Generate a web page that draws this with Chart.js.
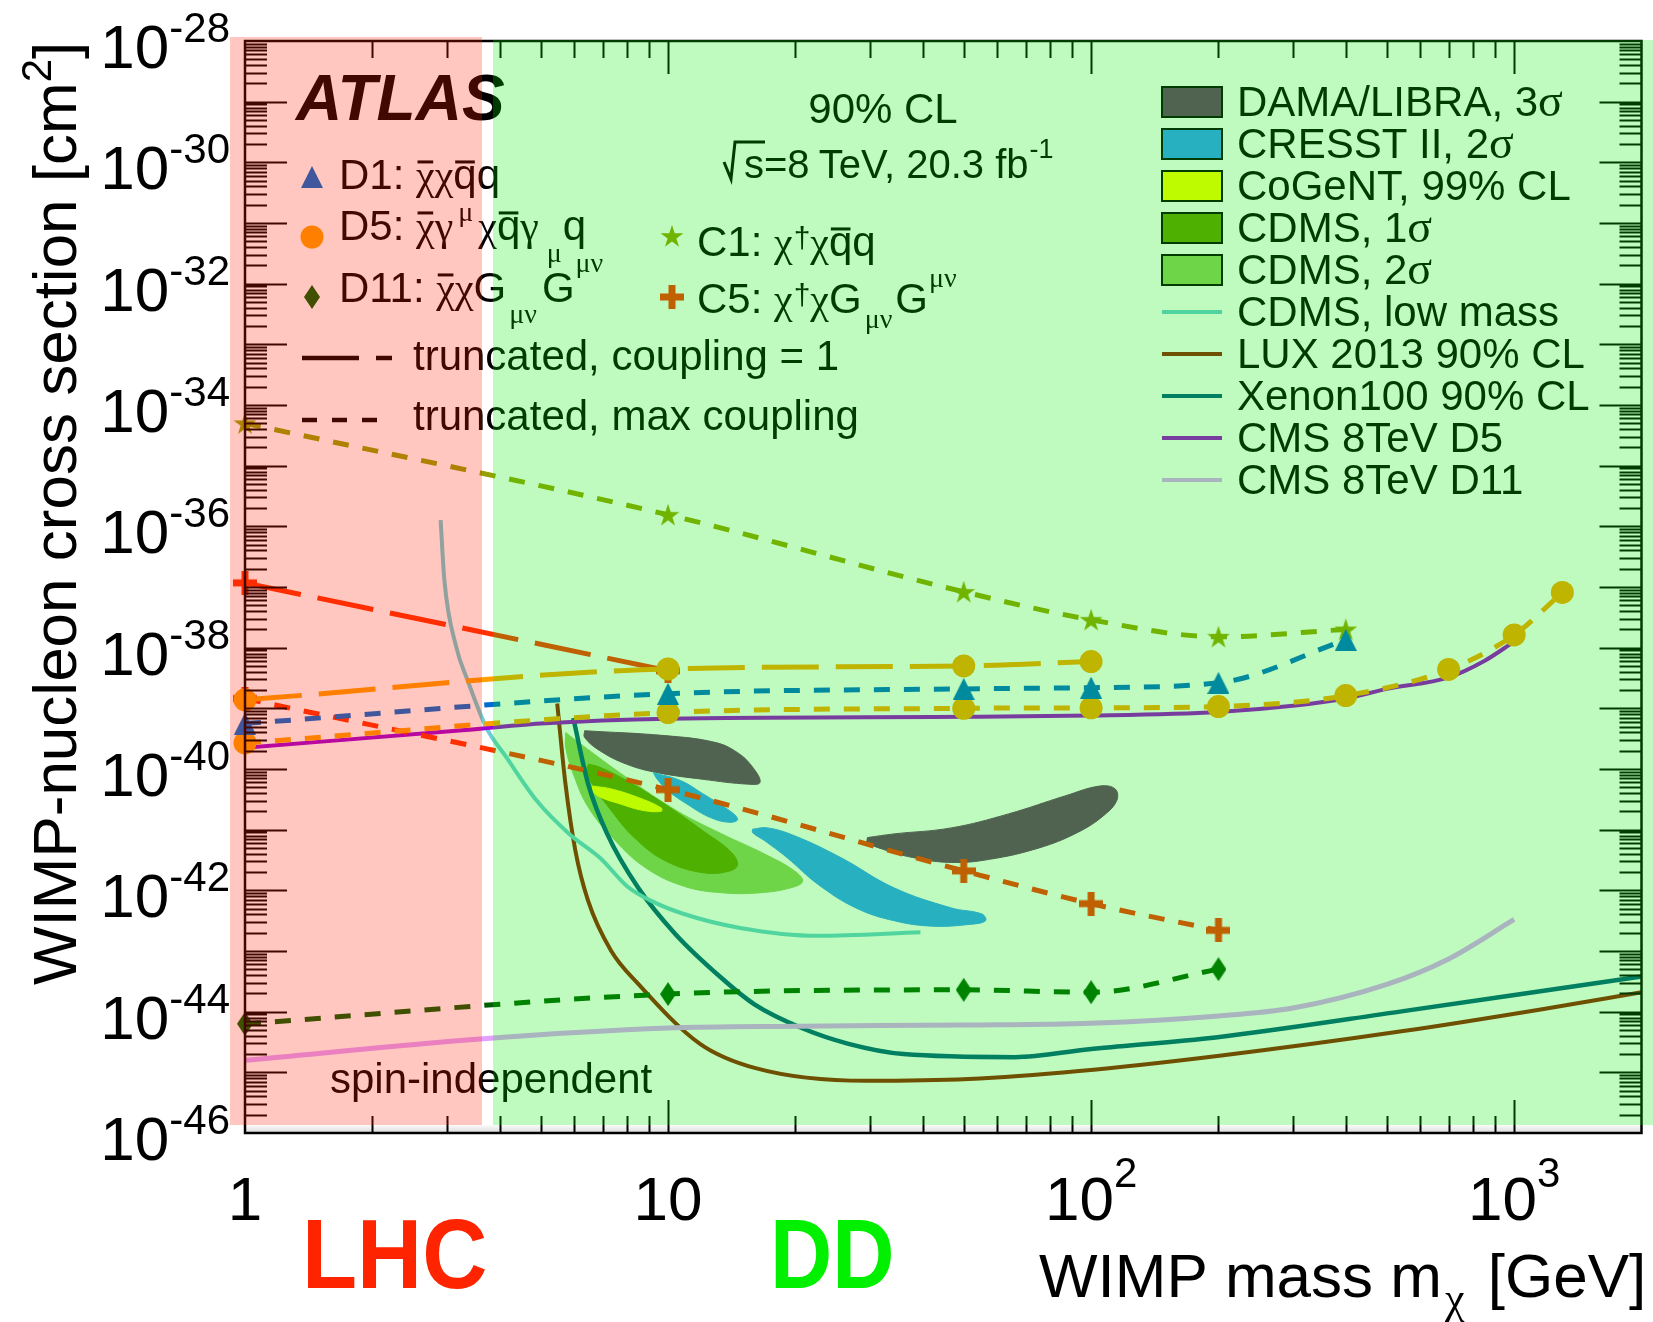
<!DOCTYPE html>
<html>
<head>
<meta charset="utf-8">
<script src="https://cdn.jsdelivr.net/npm/chart.js@4.4.1/dist/chart.umd.min.js"></script>
<style>
  html, body { margin: 0; padding: 0; background: #fff; }
  #wrap { width: 1653px; height: 1322px; }
</style>
</head>
<body>
<div id="wrap"><canvas id="c" width="1653" height="1322"></canvas></div>
<script>
// ---- ATLAS limits (markers + dashed lines) ----
const d1Mass = [1, 10, 50, 100, 200, 400];
const d1Max = [5.62e-40, 1.74e-39, 2.09e-39, 2.19e-39, 2.63e-39, 1.35e-38];

const d5TruncMass = [1, 10, 50, 100];
const d5Trunc = [1.38e-39, 4.47e-39, 5.0e-39, 5.89e-39];
const d5MaxMass = [1, 10, 50, 100, 200, 400, 700, 1000, 1300];
const d5Max = [2.69e-40, 8.51e-40, 1.0e-39, 1.02e-39, 1.07e-39, 1.62e-39, 4.37e-39, 1.62e-38, 8.13e-38];

const d11Mass = [1, 10, 50, 100, 200];
const d11Max = [6.31e-45, 1.95e-44, 2.29e-44, 2.09e-44, 5.01e-44];

const c1Mass = [1, 10, 50, 100, 200, 400];
const c1Max = [5.01e-35, 1.55e-36, 8.32e-38, 2.88e-38, 1.51e-38, 2.0e-38];

const c5TruncMass = [1, 10];
const c5Trunc = [1.17e-37, 4.17e-39];
const c5MaxMass = [1, 10, 50, 100, 200];
const c5Max = [1.45e-39, 4.57e-41, 2.09e-42, 6.03e-43, 2.19e-43];

// ---- direct detection / CMS curves ----
const cdmsLowMass = [2.90, 2.96, 3.16, 3.36, 3.72, 4.15, 4.89, 5.84, 6.92, 8.0, 9.1, 10.9, 14.8, 22.6, 39.5];
const cdmsLow = [1.26e-36, 1.29e-37, 1.0e-38, 2.88e-39, 4.79e-40, 1.55e-40, 3.02e-41, 8.51e-42, 3.39e-42, 1.17e-42, 6.76e-43, 4.07e-43, 2.40e-43, 1.78e-43, 2.04e-43];

const luxMass = [5.47, 5.72, 6.04, 6.47, 7.34, 8.5, 11.9, 16.1, 29.5, 51.3, 93.7, 199, 547, 1165, 2000];
const lux = [1.20e-39, 5.75e-41, 4.47e-42, 6.76e-43, 1.0e-43, 2.88e-44, 2.95e-45, 1.17e-45, 7.24e-46, 7.76e-46, 1.05e-45, 1.86e-45, 4.79e-45, 1.10e-44, 2.09e-44];

const xenonMass = [5.97, 6.47, 7.18, 8.5, 10.4, 13.4, 16, 20.7, 26.7, 36, 66, 99, 199, 547, 1164, 2000];
const xenon = [6.92e-40, 5.75e-41, 8.51e-42, 1.10e-42, 1.91e-43, 3.55e-44, 1.32e-44, 5.37e-45, 2.95e-45, 2.0e-45, 1.78e-45, 2.40e-45, 3.80e-45, 1.02e-44, 2.19e-44, 3.80e-44];

const cmsD5Mass = [1, 3.16, 5, 10, 50, 100, 200, 300, 400, 500, 700, 850, 1000];
const cmsD5 = [2.24e-40, 4.27e-40, 5.62e-40, 6.76e-40, 7.24e-40, 7.59e-40, 8.71e-40, 1.10e-39, 1.45e-39, 2.09e-39, 3.24e-39, 6.03e-39, 1.26e-38];

const cmsD11Mass = [1, 3.6, 10, 20, 50, 100, 200, 300, 500, 700, 1000];
const cmsD11 = [1.58e-45, 3.55e-45, 5.37e-45, 5.75e-45, 6.03e-45, 6.46e-45, 8.51e-45, 1.15e-44, 2.82e-44, 7.41e-44, 3.31e-43];

// ---- signal regions (outlines) ----
const damaLoMass = [6.35, 9.83, 12.9, 14.6, 15.85, 16.5, 15.5, 12.1, 9.43, 7.98, 6.90, 6.35];
const damaLo = [4.27e-40, 3.55e-40, 2.75e-40, 1.86e-40, 1.07e-40, 6.03e-41, 5.62e-41, 6.76e-41, 8.71e-41, 1.20e-40, 2.0e-40, 3.31e-40];
const damaHiMass = [29.6, 34.2, 46.7, 63.8, 87.1, 105, 114, 115, 107, 92.7, 75.4, 57.5, 46.7, 37.9, 32.1, 29.6];
const damaHi = [7.41e-42, 8.51e-42, 1.07e-41, 1.82e-41, 3.63e-41, 5.25e-41, 4.68e-41, 3.02e-41, 1.70e-41, 8.91e-42, 5.01e-42, 3.24e-42, 2.88e-42, 3.47e-42, 4.79e-42, 6.17e-42];
const cresstHiMass = [9.23, 10.7, 12.1, 14.0, 14.6, 14.0, 12.6, 11.1, 10.0, 9.43];
const cresstHi = [8.71e-41, 6.46e-41, 3.89e-41, 2.04e-41, 1.48e-41, 1.32e-41, 1.58e-41, 2.63e-41, 4.37e-41, 6.76e-41];
const cresstLoMass = [15.85, 17.2, 19.9, 25.6, 34.2, 46.7, 55.2, 56.3, 51.8, 42.1, 34.2, 27.8, 22.6, 19.1, 16.9, 15.85];
const cresstLo = [1.02e-41, 1.07e-41, 7.94e-42, 3.47e-42, 1.10e-42, 5.13e-43, 4.07e-43, 3.16e-43, 2.75e-43, 2.57e-43, 3.16e-43, 5.13e-43, 1.26e-42, 3.47e-42, 6.61e-42, 8.91e-42];
const cdms2Mass = [5.73, 6.22, 7.98, 10.5, 13.4, 16.9, 19.9, 20.8, 19.5, 16.5, 13.4, 10.9, 8.86, 7.50, 6.49, 5.97, 5.73];
const cdms2 = [3.98e-40, 2.57e-40, 7.24e-41, 2.04e-41, 8.51e-42, 3.98e-42, 2.09e-42, 1.41e-42, 1.10e-42, 9.12e-43, 9.12e-43, 1.17e-42, 2.34e-42, 6.61e-42, 2.29e-41, 8.32e-41, 2.24e-40];
const cdms1Mass = [6.49, 6.90, 7.98, 9.83, 12.1, 14.0, 14.6, 14.0, 12.1, 9.83, 8.32, 7.35, 6.62, 6.42];
const cdms1 = [1.20e-40, 1.07e-40, 6.46e-41, 2.63e-41, 9.55e-42, 4.47e-42, 2.69e-42, 2.09e-42, 1.95e-42, 3.09e-42, 7.41e-42, 2.04e-41, 5.62e-41, 9.33e-41];
const cogentMass = [6.62, 7.35, 8.50, 9.63, 9.63, 8.68, 7.66, 6.90, 6.62];
const cogent = [5.25e-41, 4.68e-41, 3.39e-41, 2.29e-41, 2.0e-41, 2.09e-41, 2.69e-41, 3.47e-41, 4.37e-41];

const yExpLabels = [-28, -30, -32, -34, -36, -38, -40, -42, -44, -46];
const xLabels = [[1, '1', ''], [10, '10', ''], [100, '10', '2'], [1000, '10', '3']];

const SANS = '"Liberation Sans", Arial, sans-serif';
const SERIF = '"Liberation Serif", "DejaVu Serif", serif';

// colours before the transparent LHC / DD bands are laid on top
const colD1 = 'rgb(0,105,210)', colD5 = 'rgb(255,160,0)', colD11 = 'rgb(0,95,0)';
const colC1 = 'rgb(150,160,0)', colC5 = 'rgb(255,50,0)';
const colDama = 'rgb(107,53,107)', colCresst = 'rgb(53,155,255)', colCogent = 'rgb(255,255,0)';
const colCdms1 = 'rgb(104,155,0)', colCdms2 = 'rgb(147,203,96)', colCdmsLow = 'rgb(107,205,213)';
const colLux = 'rgb(147,27,0)', colXenon = 'rgb(0,91,128)';
const colCmsD5 = 'rgb(160,0,213)', colCmsD11 = 'rgb(227,160,255)';

function pts(xs, ys) { return xs.map((x, i) => ({ x: x, y: ys[i] })); }
function loop(xs, ys) { const p = pts(xs, ys); p.push(p[0]); return p; }

function marker(w, h, draw) {
  const c = document.createElement('canvas');
  c.width = w; c.height = h;
  draw(c.getContext('2d'), w, h);
  return c;
}
function triangle(col) {
  return marker(22, 22, (g, w, h) => {
    g.fillStyle = col; g.beginPath();
    g.moveTo(w / 2, 0); g.lineTo(w, h); g.lineTo(0, h); g.closePath(); g.fill();
  });
}
function star(col) {
  return marker(24, 24, (g) => {
    g.fillStyle = col; g.beginPath();
    for (let i = 0; i < 10; i++) {
      const r = i % 2 ? 4.6 : 12;
      const a = -Math.PI / 2 + i * Math.PI / 5;
      g.lineTo(12 + r * Math.cos(a), 13 + r * Math.sin(a));
    }
    g.closePath(); g.fill();
  });
}
function cross(col) {
  return marker(24, 24, (g) => {
    g.fillStyle = col;
    g.fillRect(0, 8.5, 24, 7); g.fillRect(8.5, 0, 7, 24);
  });
}
function diamond(col) {
  return marker(16, 24, (g, w, h) => {
    g.fillStyle = col; g.beginPath();
    g.moveTo(w / 2, 0); g.lineTo(w, h / 2); g.lineTo(w / 2, h); g.lineTo(0, h / 2); g.closePath(); g.fill();
  });
}
const mkD1 = triangle(colD1), mkC1 = star(colC1), mkC5 = cross(colC5), mkD11 = diamond(colD11);

const LONG = [57, 17], SHORT = [16, 14];

function atlas(xs, ys, col, style, dash) {
  return {
    data: pts(xs, ys), showLine: true, borderColor: col, backgroundColor: col,
    borderWidth: 5, borderDash: dash, pointStyle: style, pointRadius: 11.5, pointBorderWidth: 0,
    cubicInterpolationMode: 'monotone', tension: 0.4, clip: false, order: 1
  };
}
function curve(xs, ys, col, w) {
  return {
    data: pts(xs, ys), showLine: true, borderColor: col, borderWidth: w, pointRadius: 0,
    cubicInterpolationMode: 'monotone', tension: 0.4, order: 2
  };
}
function region(xs, ys, col) {
  return {
    data: loop(xs, ys), showLine: true, fill: 'shape', backgroundColor: col, borderColor: col,
    borderWidth: 1, pointRadius: 0, tension: 0.4, order: 3
  };
}

const datasets = [
  atlas(d1Mass, d1Max, colD1, mkD1, SHORT),
  atlas(d5TruncMass, d5Trunc, colD5, 'circle', LONG),
  atlas(d5MaxMass, d5Max, colD5, 'circle', SHORT),
  atlas(c1Mass, c1Max, colC1, mkC1, SHORT),
  atlas(c5TruncMass, c5Trunc, colC5, mkC5, LONG),
  atlas(c5MaxMass, c5Max, colC5, mkC5, SHORT),
  atlas(d11Mass, d11Max, colD11, mkD11, SHORT),
  curve(cmsD5Mass, cmsD5, colCmsD5, 4),
  curve(cmsD11Mass, cmsD11, colCmsD11, 5),
  curve(cdmsLowMass, cdmsLow, colCdmsLow, 4),
  curve(luxMass, lux, colLux, 4),
  curve(xenonMass, xenon, colXenon, 4.5),
  region(cogentMass, cogent, colCogent),
  region(cdms1Mass, cdms1, colCdms1),
  region(cdms2Mass, cdms2, colCdms2),
  region(cresstHiMass, cresstHi, colCresst),
  region(cresstLoMass, cresstLo, colCresst),
  region(damaLoMass, damaLo, colDama),
  region(damaHiMass, damaHi, colDama)
];
datasets.forEach((d, i) => { if (d.order === 3) d.order = 3 + i; });

// draw a run of text pieces (sub/superscripts, overbars)
function rich(ctx, x, y, parts, base) {
  for (const p of parts) {
    const s = p.s || base;
    ctx.font = (p.b ? 'bold ' : '') + s + 'px ' + (p.g ? SERIF : SANS);
    x += p.dx || 0;
    const yy = y + (p.dy || 0);
    ctx.fillText(p.t, x, yy);
    const w = ctx.measureText(p.t).width;
    if (p.bar) ctx.fillRect(x + w * 0.08, yy - s * 0.68, w * 0.84, 3);
    x += w;
  }
  return x;
}
function width(ctx, parts, base) {
  let w = 0;
  for (const p of parts) {
    ctx.font = (p.b ? 'bold ' : '') + (p.s || base) + 'px ' + (p.g ? SERIF : SANS);
    w += (p.dx || 0) + ctx.measureText(p.t).width;
  }
  return w;
}

const decor = {
  id: 'decor',
  beforeDraw(chart) {
    const ctx = chart.ctx, a = chart.chartArea;
    ctx.save();
    ctx.fillStyle = '#fff';
    ctx.fillRect(0, 0, chart.width, chart.height);
    const g = ctx.createLinearGradient(0, 1125, 0, a.bottom);
    g.addColorStop(0, '#fbfbfb'); g.addColorStop(1, '#dadada');
    ctx.fillStyle = g;
    ctx.fillRect(a.left, 1125, a.right - a.left, a.bottom - 1125);
    ctx.restore();
  },
  afterDraw(chart) {
    const ctx = chart.ctx, a = chart.chartArea;
    const xs = chart.scales.x, ys = chart.scales.y;
    ctx.save();

    // ticks on all four sides
    ctx.strokeStyle = '#000'; ctx.lineWidth = 2;
    ctx.beginPath();
    for (const d of [1, 10, 100, 1000]) {
      for (let m = 1; m < 10; m++) {
        const v = m * d;
        if (v <= 1 || v >= 2000) continue;
        const p = Math.round(xs.getPixelForValue(v)) + 0.5, len = m === 1 ? 33 : 17;
        ctx.moveTo(p, a.bottom); ctx.lineTo(p, a.bottom - len);
        ctx.moveTo(p, a.top); ctx.lineTo(p, a.top + len);
      }
    }
    for (let e = -46; e < -28; e++) {
      for (let m = 1; m < 10; m++) {
        if (m === 1 && e === -46) continue;
        const p = Math.round(ys.getPixelForValue(m * Math.pow(10, e))) + 0.5, len = m === 1 ? 42 : 22;
        ctx.moveTo(a.left, p); ctx.lineTo(a.left + len, p);
        ctx.moveTo(a.right, p); ctx.lineTo(a.right - len, p);
      }
    }
    ctx.stroke();
    ctx.lineWidth = 2.5;
    ctx.strokeRect(a.left, a.top, a.right - a.left, a.bottom - a.top);

    // legend, left block
    ctx.fillStyle = '#000';
    ctx.font = 'italic bold 64px ' + SANS;
    ctx.fillText('ATLAS', 296, 120);

    ctx.drawImage(mkD1, 312 - 11, 177 - 11);
    rich(ctx, 339, 189, [{ t: 'D1: ' }, { t: 'χ', g: 1, bar: 1 }, { t: 'χ', g: 1 }, { t: 'q', bar: 1 }, { t: 'q' }], 42);
    ctx.fillStyle = colD5;
    ctx.beginPath(); ctx.arc(312, 237, 11.5, 0, Math.PI * 2); ctx.fill();
    ctx.fillStyle = '#000';
    rich(ctx, 339, 240, [{ t: 'D5: ' }, { t: 'χ', g: 1, bar: 1 }, { t: 'γ', g: 1 }, { t: 'μ', g: 1, s: 28, dy: -19, dx: 5 },
      { t: 'χ', g: 1, dx: 5 }, { t: 'q', bar: 1 }, { t: 'γ', g: 1 }, { t: 'μ', g: 1, s: 28, dy: 22, dx: 8 }, { t: 'q', dx: 1 }], 42);
    ctx.drawImage(mkD11, 312 - 8, 297 - 12);
    rich(ctx, 339, 302, [{ t: 'D11: ' }, { t: 'χ', g: 1, bar: 1 }, { t: 'χ', g: 1 }, { t: 'G' }, { t: 'μν', g: 1, s: 28, dy: 21, dx: 3 },
      { t: 'G', dx: 5 }, { t: 'μν', g: 1, s: 28, dy: -30, dx: 1 }], 42);

    ctx.drawImage(mkC1, 672 - 12, 237 - 13);
    rich(ctx, 697, 256, [{ t: 'C1: ' }, { t: 'χ', g: 1 }, { t: '†', s: 30, dy: -8, dx: 1 }, { t: 'χ', g: 1 }, { t: 'q', bar: 1 }, { t: 'q' }], 42);
    ctx.drawImage(mkC5, 672 - 12, 297 - 12);
    rich(ctx, 697, 313, [{ t: 'C5: ' }, { t: 'χ', g: 1 }, { t: '†', s: 30, dy: -8, dx: 1 }, { t: 'χ', g: 1 }, { t: 'G' },
      { t: 'μν', g: 1, s: 28, dy: 15, dx: 3 }, { t: 'G', dx: 3 }, { t: 'μν', g: 1, s: 28, dy: -26, dx: 1 }], 42);

    ctx.strokeStyle = '#000'; ctx.lineWidth = 4.5;
    ctx.setLineDash(LONG);
    ctx.beginPath(); ctx.moveTo(302, 358); ctx.lineTo(392, 358); ctx.stroke();
    ctx.setLineDash([15, 15]);
    ctx.beginPath(); ctx.moveTo(302, 420); ctx.lineTo(378, 420); ctx.stroke();
    ctx.setLineDash([]);
    ctx.font = '42px ' + SANS;
    ctx.fillText('truncated, coupling = 1', 413, 370);
    ctx.fillText('truncated, max coupling', 413, 430);

    // energy / luminosity
    ctx.textAlign = 'center';
    ctx.fillText('90% CL', 883, 123);
    ctx.textAlign = 'left';
    ctx.lineWidth = 3;
    ctx.beginPath(); ctx.moveTo(724, 162); ctx.lineTo(731, 179); ctx.lineTo(735, 142); ctx.lineTo(765, 142); ctx.stroke();
    rich(ctx, 744, 178, [{ t: 's=8' }, { t: ' TeV, 20.3 fb', dx: -2 }, { t: '-1', s: 27, dy: -20, dx: 1 }], 40);

    ctx.font = '42px ' + SANS;
    ctx.fillText('spin-independent', 330, 1093);

    // legend, right block
    const boxes = [['DAMA/LIBRA, 3σ', colDama], ['CRESST II, 2σ', colCresst], ['CoGeNT, 99% CL', colCogent],
      ['CDMS, 1σ', colCdms1], ['CDMS, 2σ', colCdms2]];
    const lines = [['CDMS, low mass', colCdmsLow], ['LUX 2013 90% CL', colLux], ['Xenon100 90% CL', colXenon],
      ['CMS 8TeV D5', colCmsD5], ['CMS 8TeV D11', colCmsD11]];
    const rows = boxes.concat(lines);
    rows.forEach((r, i) => {
      const cy = 102 + 42 * i;
      if (i < boxes.length) {
        ctx.fillStyle = r[1];
        ctx.fillRect(1162, cy - 15, 60, 30);
        ctx.strokeStyle = '#000'; ctx.lineWidth = 2;
        ctx.strokeRect(1162, cy - 15, 60, 30);
      } else {
        ctx.strokeStyle = r[1]; ctx.lineWidth = 4;
        ctx.beginPath(); ctx.moveTo(1162, cy); ctx.lineTo(1222, cy); ctx.stroke();
      }
      ctx.fillStyle = '#000';
      const parts = r[0].split('σ');
      if (parts.length > 1) rich(ctx, 1237, cy + 14, [{ t: parts[0] }, { t: 'σ', g: 1, s: 46 }], 42);
      else rich(ctx, 1237, cy + 14, [{ t: r[0] }], 42);
    });

    // LHC and DD bands laid over the frame
    ctx.fillStyle = 'rgba(255,32,0,0.25)';
    ctx.fillRect(230, 37, 252, 1125 - 37);
    ctx.fillStyle = 'rgba(0,240,0,0.25)';
    ctx.fillRect(493, 40, 1653 - 493, 1125 - 40);

    // axis labels
    ctx.fillStyle = '#000';
    yExpLabels.forEach((e) => {
      const y = ys.getPixelForValue(Math.pow(10, e));
      ctx.font = '42px ' + SANS;
      const sup = String(e);
      const ws = ctx.measureText(sup).width;
      ctx.fillText(sup, 230 - ws, y + 1);
      ctx.font = '62px ' + SANS;
      const wb = ctx.measureText('10').width;
      ctx.fillText('10', 230 - ws - wb, y + 27);
    });
    xLabels.forEach((l) => {
      const x = xs.getPixelForValue(l[0]);
      const parts = [{ t: l[1], s: 62 }];
      if (l[2]) parts.push({ t: l[2], s: 42, dy: -33 });
      const w = width(ctx, parts, 62);
      rich(ctx, x - w / 2, 1220, parts, 62);
    });

    rich(ctx, 1039, 1297, [{ t: 'WIMP mass m' }, { t: 'χ', g: 1, s: 44, dy: 16, dx: 3 }, { t: ' [GeV]', dx: 6 }], 62);

    ctx.save();
    ctx.translate(76, 985);
    ctx.rotate(-Math.PI / 2);
    rich(ctx, 0, 0, [{ t: 'WIMP-nucleon cross section [cm' }, { t: '2', s: 42, dy: -25 }, { t: ']' }], 62);
    ctx.restore();

    ctx.save();
    ctx.fillStyle = 'rgb(255,36,0)';
    ctx.font = 'bold 98px ' + SANS;
    ctx.translate(302, 1288); ctx.scale(0.92, 1);
    ctx.fillText('LHC', 0, 0);
    ctx.restore();
    ctx.save();
    ctx.fillStyle = 'rgb(0,240,0)';
    ctx.font = 'bold 98px ' + SANS;
    ctx.translate(770, 1288); ctx.scale(0.88, 1);
    ctx.fillText('DD', 0, 0);
    ctx.restore();

    ctx.restore();
  }
};

new Chart(document.getElementById('c'), {
  type: 'scatter',
  data: { datasets: datasets },
  options: {
    responsive: false,
    animation: false,
    events: [],
    layout: { padding: { left: 245, top: 41, right: 9, bottom: 189 } },
    scales: {
      x: { type: 'logarithmic', min: 1, max: 2000, display: false },
      y: { type: 'logarithmic', min: 1e-46, max: 1e-28, display: false }
    },
    plugins: { legend: { display: false }, tooltip: { enabled: false } }
  },
  plugins: [decor]
});
</script>
</body>
</html>
